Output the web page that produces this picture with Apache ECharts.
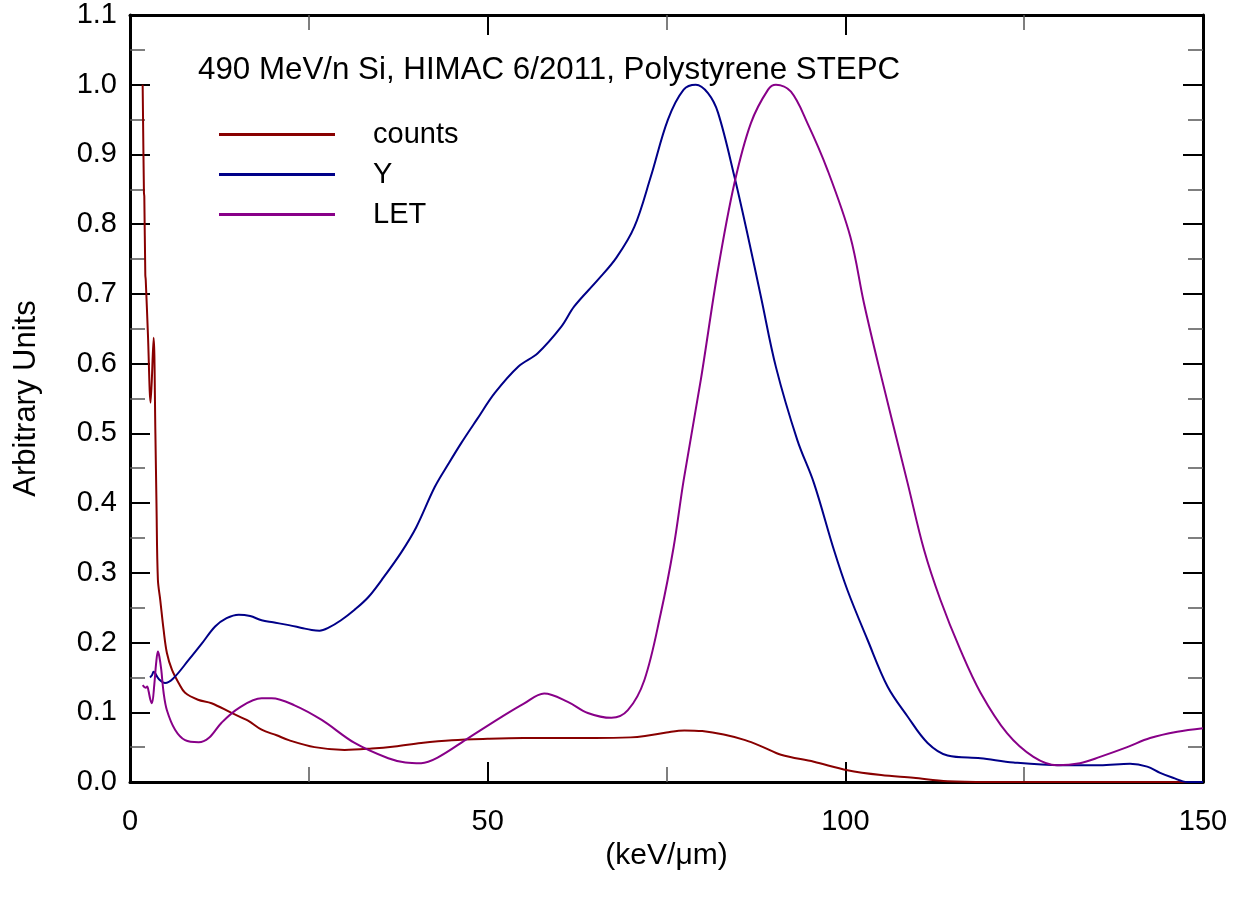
<!DOCTYPE html>
<html>
<head>
<meta charset="utf-8">
<script src="https://cdn.jsdelivr.net/npm/echarts@6/dist/echarts.min.js"></script>
<style>html,body{margin:0;padding:0;background:#fff}#c{width:1233px;height:898px}</style>
</head>
<body>
<div id="c"></div>
<script>
const titleText = '490 MeV/n Si, HIMAC 6/2011, Polystyrene STEPC';
const xName = '(keV/\u03bcm)';
const yName = 'Arbitrary Units';
const seriesNames = ['counts', 'Y', 'LET'];

const countsX = [1.77, 1.95, 2.0, 2.14, 2.2, 2.51, 2.88, 3.3, 3.55, 3.7, 3.9, 4.23, 4.7, 5.16, 5.86, 6.8, 7.7, 9.5, 11.4, 14.2, 16.5, 18.4, 20.5, 22.2, 25.8, 30, 33.8, 37, 40.7, 45, 50, 55, 60, 65, 70, 72, 75, 77.5, 80, 83, 86, 88.5, 91, 95.6, 100.3, 105, 109.5, 114.3, 120, 130, 140, 150];
const countsY = [1.0, 0.845, 0.84, 0.727, 0.72, 0.641, 0.544, 0.637, 0.5, 0.4, 0.29, 0.261, 0.218, 0.185, 0.161, 0.142, 0.128, 0.118, 0.113, 0.099, 0.088, 0.075, 0.067, 0.060, 0.050, 0.046, 0.048, 0.051, 0.056, 0.060, 0.062, 0.063, 0.063, 0.063, 0.064, 0.066, 0.071, 0.074, 0.073, 0.068, 0.060, 0.050, 0.039, 0.029, 0.017, 0.010, 0.006, 0.001, 0.0, 0.0, 0.0, 0.0];

const yieldX = [2.8, 3.07, 3.3, 4.0, 4.9, 6.0, 8.2, 10, 11.9, 13.5, 15.2, 16.8, 18.4, 20, 22.2, 24, 25.4, 26.5, 27.7, 29.5, 31.4, 33.3, 35.2, 37.9, 40, 42.6, 44.5, 46.3, 48.5, 51, 54.3, 57, 60.3, 62.1, 65.4, 68, 70.5, 72.8, 75.2, 77.4, 79.1, 80.8, 82.2, 84.5, 86.4, 88.2, 90.3, 93.3, 95.6, 98.4, 100.3, 103.1, 105.9, 108.7, 111.5, 114.3, 118.9, 123.5, 130, 135.6, 139.8, 142.2, 144, 145.8, 147.8, 150];
const yieldY = [0.15, 0.153, 0.158, 0.148, 0.142, 0.148, 0.175, 0.198, 0.223, 0.235, 0.24, 0.238, 0.232, 0.229, 0.225, 0.221, 0.218, 0.217, 0.221, 0.232, 0.247, 0.265, 0.29, 0.329, 0.365, 0.423, 0.456, 0.486, 0.52, 0.558, 0.596, 0.615, 0.653, 0.682, 0.72, 0.752, 0.796, 0.868, 0.95, 0.993, 1.0, 0.988, 0.96, 0.868, 0.782, 0.696, 0.595, 0.49, 0.429, 0.333, 0.275, 0.204, 0.137, 0.094, 0.056, 0.038, 0.034, 0.028, 0.024, 0.024, 0.026, 0.022, 0.013, 0.006, 0.0, 0.0];

const letX = [1.77, 2.2, 2.4, 2.6, 2.85, 3.07, 3.4, 3.65, 3.9, 4.1, 4.37, 4.7, 5.16, 6.3, 7.7, 9.6, 11, 12.8, 15.2, 18.4, 19.8, 23, 26.8, 31.4, 36.1, 38.5, 40.7, 43, 47.3, 51.9, 55, 57.9, 61.2, 64, 67.3, 69.6, 71.9, 74.2, 76, 77.4, 79.8, 82.2, 84.5, 86.8, 89.2, 90.3, 92.4, 94.7, 97.5, 100.7, 102.6, 104.7, 108.7, 111, 113.3, 116.1, 118.9, 122.6, 126.3, 129.6, 132.8, 135.6, 139.4, 142.6, 146.4, 150];
const letY = [0.139, 0.135, 0.137, 0.13, 0.118, 0.113, 0.14, 0.17, 0.187, 0.18, 0.161, 0.128, 0.103, 0.075, 0.06, 0.057, 0.063, 0.085, 0.106, 0.12, 0.12, 0.11, 0.089, 0.056, 0.034, 0.028, 0.027, 0.035, 0.063, 0.093, 0.112, 0.127, 0.115, 0.099, 0.092, 0.103, 0.146, 0.242, 0.337, 0.433, 0.577, 0.735, 0.859, 0.945, 0.993, 1.0, 0.99, 0.945, 0.878, 0.782, 0.687, 0.595, 0.429, 0.333, 0.261, 0.189, 0.128, 0.07, 0.036, 0.024, 0.027, 0.036, 0.05, 0.063, 0.072, 0.077];

const colors = ['#880000', '#000088', '#880088'];
const FONT = '"Liberation Sans", Arial, sans-serif';

function pairs(xs, ys) { return xs.map((x, i) => [x, ys[i]]); }

const chart = echarts.init(document.getElementById('c'), null, {renderer: 'canvas'});

const tickCommon = {
  axisLine: {show: true, onZero: false, lineStyle: {color: '#000', width: 3}},
  axisTick: {show: true, inside: true, length: 20, lineStyle: {color: '#000', width: 2}},
  minorTick: {show: true, splitNumber: 2, length: 15, lineStyle: {color: '#555', width: 1.5}},
  splitLine: {show: false},
  minorSplitLine: {show: false}
};

const option = {
  animation: false,
  backgroundColor: '#fff',
  textStyle: {fontFamily: FONT},
  title: {
    text: titleText, left: 193, top: 50,
    textStyle: {fontFamily: FONT, fontSize: 31.3, fontWeight: 'normal', color: '#000'}
  },
  legend: {
    data: seriesNames, orient: 'vertical', left: 219, top: 120, padding: 0,
    icon: 'rect', itemWidth: 116, itemHeight: 3, itemGap: 11,
    textStyle: {fontFamily: FONT, fontSize: 29, color: '#000', lineHeight: 28, padding: [0, 0, 0, 33]}
  },
  grid: {left: 130, right: 30, top: 15, bottom: 116, containLabel: false},
  xAxis: [
    Object.assign({
      type: 'value', min: 0, max: 150, interval: 50, position: 'bottom',
      name: xName, nameLocation: 'middle', nameGap: 56,
      nameTextStyle: {fontFamily: FONT, fontSize: 30, color: '#000'},
      axisLabel: {fontFamily: FONT, fontSize: 29, color: '#000', margin: 25}
    }, tickCommon),
    Object.assign({
      type: 'value', min: 0, max: 150, interval: 50, position: 'top',
      axisLabel: {show: false}
    }, tickCommon)
  ],
  yAxis: [
    Object.assign({
      type: 'value', min: 0, max: 1.1, interval: 0.1, position: 'left',
      name: yName, nameLocation: 'middle', nameGap: 88, nameRotate: 90,
      nameTextStyle: {fontFamily: FONT, fontSize: 31, color: '#000'},
      axisLabel: {fontFamily: FONT, fontSize: 29, color: '#000', margin: 13,
        formatter: v => v.toFixed(1)}
    }, tickCommon),
    Object.assign({
      type: 'value', min: 0, max: 1.1, interval: 0.1, position: 'right',
      axisLabel: {show: false}
    }, tickCommon)
  ],
  series: [
    {name: seriesNames[0], type: 'line', data: pairs(countsX, countsY), showSymbol: false, symbol: 'none',
     smooth: 0.35, lineStyle: {color: colors[0], width: 2}, itemStyle: {color: colors[0]}, z: 3},
    {name: seriesNames[1], type: 'line', data: pairs(yieldX, yieldY), showSymbol: false, symbol: 'none',
     smooth: 0.35, lineStyle: {color: colors[1], width: 2}, itemStyle: {color: colors[1]}, z: 4},
    {name: seriesNames[2], type: 'line', data: pairs(letX, letY), showSymbol: false, symbol: 'none',
     smooth: 0.35, lineStyle: {color: colors[2], width: 2}, itemStyle: {color: colors[2]}, z: 5}
  ]
};
chart.setOption(option);
</script>
</body>
</html>
